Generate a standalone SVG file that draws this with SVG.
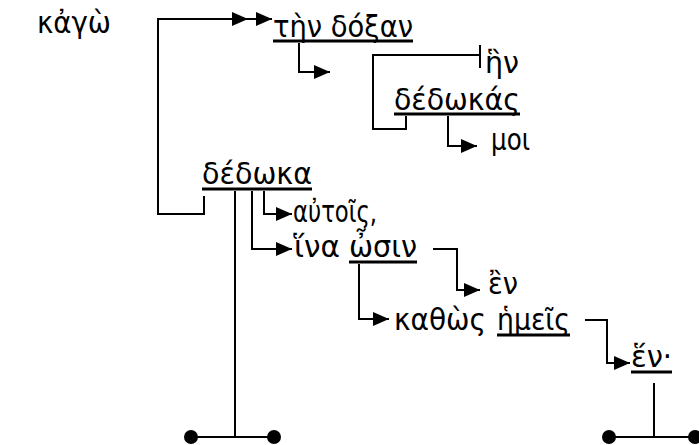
<svg xmlns="http://www.w3.org/2000/svg" width="699" height="445" viewBox="0 0 699 445">
<defs>
<style>
.t{font-family:"DejaVu Sans","Noto Sans",sans-serif;font-size:30px;fill:#000}
.u{stroke:#000;stroke-width:3;fill:none}
.c{stroke:#000;stroke-width:2;fill:none}
.d{fill:#000}
</style>
<marker id="ah" markerUnits="userSpaceOnUse" markerWidth="17" markerHeight="15" refX="16" refY="7" orient="auto">
<path d="M0,0 L16,7 L0,14 z" fill="#000"/>
</marker>
</defs>
<rect width="699" height="445" fill="#fff"/>
<g id="connectors">
<path class="c" d="M204,196 V214 H158 V19 H248" marker-end="url(#ah)"/>
<path class="c" d="M248,19 H272" marker-end="url(#ah)"/>
<path class="c" d="M299,43 V72 H330" marker-end="url(#ah)"/>
<path class="c" d="M480,45 V68 M480,55 H373 V129 H406 V116"/>
<path class="c" d="M448,116 V146 H477" marker-end="url(#ah)"/>
<path class="c" d="M235,191 V437"/>
<path class="c" d="M264,191 V214 H292" marker-end="url(#ah)"/>
<path class="c" d="M252,191 V249 H292" marker-end="url(#ah)"/>
<path class="c" d="M359,264 V319 H389" marker-end="url(#ah)"/>
<path class="c" d="M433,249 H457 V290 H480" marker-end="url(#ah)"/>
<path class="c" d="M585,320 H607 V363 H630" marker-end="url(#ah)"/>
<path class="c" d="M654,383 V437 M609,437 H695 M191,437 H274"/>
<circle class="d" cx="191" cy="437" r="7"/>
<circle class="d" cx="274" cy="437" r="7"/>
<circle class="d" cx="609" cy="437" r="7"/>
<circle class="d" cx="695" cy="437" r="7"/>
</g>
<g id="kago"><text class="t" x="37" y="33" textLength="74" lengthAdjust="spacingAndGlyphs">κἀγὼ</text></g>
<g id="ten-doxan"><text class="t" x="273" y="37" textLength="140" lengthAdjust="spacingAndGlyphs">τὴν δόξαν</text><line class="u" x1="273" y1="41" x2="413" y2="41"/></g>
<g id="en1"><text class="t" x="485" y="73" textLength="34" lengthAdjust="spacingAndGlyphs">ἣν</text></g>
<g id="dedokas"><text class="t" x="394" y="110" textLength="126" lengthAdjust="spacingAndGlyphs">δέδωκάς</text><line class="u" x1="394" y1="114" x2="520" y2="114"/></g>
<g id="moi"><text class="t" x="491" y="150" textLength="39" lengthAdjust="spacingAndGlyphs">μοι</text></g>
<g id="dedoka"><text class="t" x="202" y="184" textLength="110" lengthAdjust="spacingAndGlyphs">δέδωκα</text><line class="u" x1="202" y1="189" x2="312" y2="189"/></g>
<g id="autois"><text class="t" x="293" y="222" textLength="84" lengthAdjust="spacingAndGlyphs">αὐτοῖς,</text></g>
<g id="hina-osin"><text class="t" x="294" y="257" textLength="46" lengthAdjust="spacingAndGlyphs">ἵνα</text><text class="t" x="349" y="257" textLength="68" lengthAdjust="spacingAndGlyphs">ὦσιν</text><line class="u" x1="349" y1="262" x2="417" y2="262"/></g>
<g id="en2"><text class="t" x="488" y="294" textLength="30" lengthAdjust="spacingAndGlyphs">ἒν</text></g>
<g id="kathos-hemeis"><text class="t" x="394" y="330" textLength="92" lengthAdjust="spacingAndGlyphs">καθὼς</text><text class="t" x="497" y="330" textLength="73" lengthAdjust="spacingAndGlyphs">ἡμεῖς</text><line class="u" x1="497" y1="335" x2="570" y2="335"/></g>
<g id="hen"><text class="t" x="631" y="367" textLength="41" lengthAdjust="spacingAndGlyphs">ἕν·</text><line class="u" x1="631" y1="372" x2="672" y2="372"/></g>
</svg>
